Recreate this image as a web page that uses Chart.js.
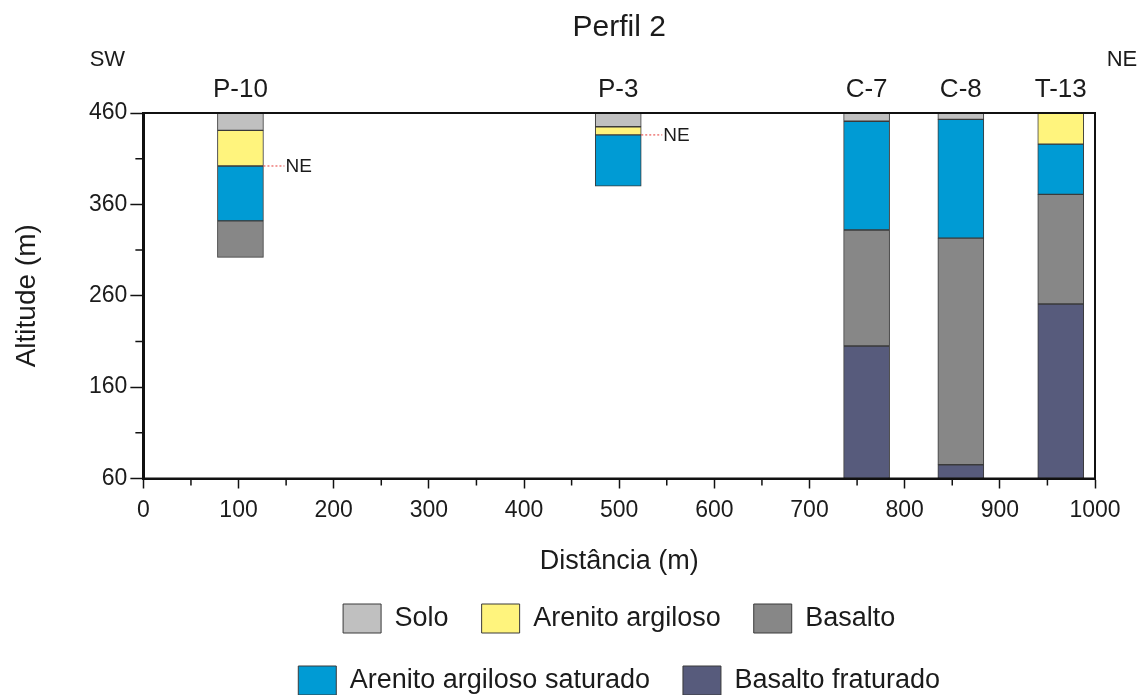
<!DOCTYPE html>
<html lang="pt">
<head>
<meta charset="utf-8">
<title>Perfil 2</title>
<script src="https://cdn.jsdelivr.net/npm/chart.js@4.4.1/dist/chart.umd.min.js"></script>
<style>
  html, body { margin: 0; padding: 0; background: #fff; }
  #wrap { width: 1148px; height: 695px; }
</style>
</head>
<body>
<div id="wrap"><canvas id="perfil"></canvas></div>
<script>
// poços / furos ao longo do perfil SW-NE
const wellNames = ['P-10', 'P-3', 'C-7', 'C-8', 'T-13'];
const wellDistance = [102, 499, 760, 859, 964];

// camadas: [base, topo] em altitude (m); null = camada ausente no poço
const solo = [[441, 460], [445, 460], [451, 460], [453, 460], null];
const arenitoArgiloso = [[402, 441], [436, 445], null, null, [426, 460]];
const arenitoSaturado = [[342, 402], [380, 436], [332, 451], [323, 453], [371, 426]];
const basalto = [[302, 342], null, [205, 332], [75, 323], [251, 371]];
const basaltoFraturado = [null, null, [60, 205], [60, 75], [60, 251]];

// nível estático (m)
const nivelEstatico = [402, 436, null, null, null];

const FONT = "'Liberation Sans', Arial, Helvetica, sans-serif";
const INK = '#1b1b1b';
const BAR_PX = 46;

Chart.defaults.font.family = FONT;
Chart.defaults.color = INK;

function layer(label, ranges, color) {
  return {
    label,
    data: ranges.map((r, i) => r && { x: wellDistance[i], y: r }).filter(Boolean),
    backgroundColor: color,
    borderColor: '#3a3a3a',
    borderWidth: 1,
    borderSkipped: false,
    grouped: false,
    barThickness: BAR_PX
  };
}

// moldura, ticks menores, nomes dos poços e NE
const perfilExtras = {
  id: 'perfilExtras',
  afterDatasetsDraw(chart) {
    const { ctx, chartArea: a, scales: { x, y } } = chart;
    ctx.save();

    ctx.font = '19px ' + FONT;
    ctx.textBaseline = 'middle';
    ctx.textAlign = 'left';
    nivelEstatico.forEach((nivel, i) => {
      if (nivel == null) return;
      const x0 = x.getPixelForValue(wellDistance[i]) + BAR_PX / 2;
      const yy = y.getPixelForValue(nivel);
      ctx.strokeStyle = '#e53935';
      ctx.lineWidth = 1;
      ctx.setLineDash([2, 2]);
      ctx.beginPath();
      ctx.moveTo(x0, yy);
      ctx.lineTo(x0 + 21, yy);
      ctx.stroke();
      ctx.setLineDash([]);
      ctx.fillStyle = INK;
      ctx.fillText('NE', x0 + 22, yy + 1);
    });

    ctx.strokeStyle = '#111';
    ctx.lineWidth = 2;
    ctx.strokeRect(a.left, a.top, a.width, a.height);

    ctx.lineWidth = 1.5;
    ctx.beginPath();
    for (let v = 110; v < 460; v += 100) {
      const py = y.getPixelForValue(v);
      ctx.moveTo(a.left - 8, py);
      ctx.lineTo(a.left, py);
    }
    for (let v = 50; v < 1000; v += 100) {
      const px = x.getPixelForValue(v);
      ctx.moveTo(px, a.bottom);
      ctx.lineTo(px, a.bottom + 7);
    }
    ctx.stroke();

    ctx.fillStyle = INK;
    ctx.textAlign = 'center';
    ctx.font = '26px ' + FONT;
    wellNames.forEach((name, i) => {
      ctx.fillText(name, x.getPixelForValue(wellDistance[i]), a.top - 23);
    });
    ctx.font = '22px ' + FONT;
    ctx.fillText('SW', a.left - 36, a.top - 53);
    ctx.fillText('NE', a.right + 27, a.top - 53);
    ctx.restore();
  }
};

new Chart(document.getElementById('perfil'), {
  type: 'bar',
  data: {
    datasets: [
      layer('Solo', solo, '#c0c0c0'),
      layer('Arenito argiloso', arenitoArgiloso, '#fff47d'),
      layer('Basalto', basalto, '#878787'),
      layer('Arenito argiloso saturado', arenitoSaturado, '#009bd4'),
      layer('Basalto fraturado', basaltoFraturado, '#575b7c')
    ]
  },
  options: {
    responsive: true,
    maintainAspectRatio: false,
    animation: false,
    layout: { padding: { left: 13, right: 53, top: 0, bottom: -10 } },
    plugins: {
      title: {
        display: true,
        text: 'Perfil 2',
        fullSize: false,
        color: INK,
        font: { size: 30, weight: 'normal', lineHeight: 1.2 },
        padding: { top: 10, bottom: 67 }
      },
      legend: {
        position: 'bottom',
        fullSize: false,
        labels: {
          color: INK,
          font: { size: 27 },
          boxWidth: 38,
          boxHeight: 29,
          padding: 33
        }
      },
      tooltip: { enabled: false }
    },
    scales: {
      x: {
        type: 'linear',
        min: 0,
        max: 1000,
        offset: false,
        border: { display: true, color: '#111', width: 2 },
        grid: { offset: false, drawOnChartArea: false, tickLength: 10, tickWidth: 1.5, tickColor: '#111' },
        ticks: {
          stepSize: 100,
          autoSkip: false,
          maxRotation: 0,
          padding: 8,
          font: { size: 23 },
          color: INK,
          callback: (v) => String(v)
        },
        title: {
          display: true,
          text: 'Distância (m)',
          color: INK,
          font: { size: 27, lineHeight: 0.7 },
          padding: { top: 20, bottom: 0 }
        }
      },
      y: {
        min: 60,
        max: 460,
        border: { display: true, color: '#111', width: 3 },
        grid: { drawOnChartArea: false, tickLength: 13, tickWidth: 1.5, tickColor: '#111' },
        ticks: { stepSize: 100, padding: 3, font: { size: 23 }, color: INK },
        title: {
          display: true,
          text: 'Altitude (m)',
          color: INK,
          font: { size: 28, lineHeight: 1 },
          padding: { top: 0, bottom: 45 }
        }
      }
    }
  },
  plugins: [perfilExtras]
});
</script>
</body>
</html>
